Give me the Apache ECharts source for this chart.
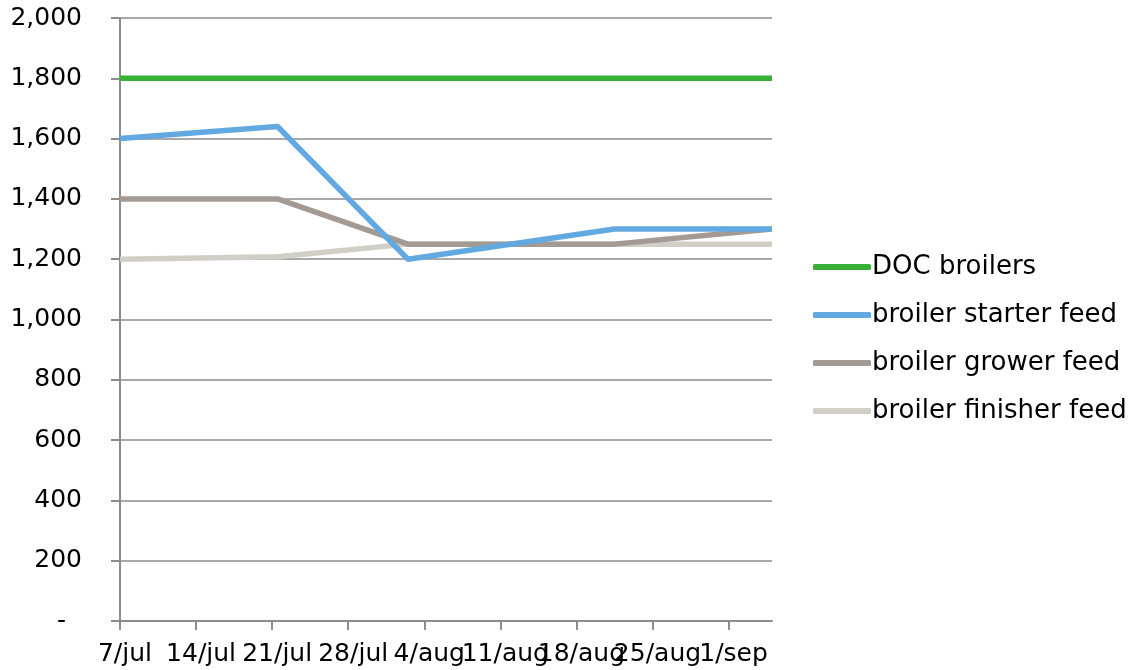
<!DOCTYPE html>
<html>
<head>
<meta charset="utf-8">
<script src="https://cdn.jsdelivr.net/npm/echarts@6/dist/echarts.min.js"></script>
<style>
html,body{margin:0;padding:0;background:#fff;}
#chart{width:1140px;height:670px;}
</style>
</head>
<body>
<div id="chart"></div>
<script>
// x positions are days since 7 July
const weekLabels = ['7/jul','14/jul','21/jul','28/jul','4/aug','11/aug','18/aug','25/aug','1/sep'];
const seriesNames = ['DOC broilers','broiler starter feed','broiler grower feed','broiler finisher feed'];
const docBroilers = [[0,1800],[14.5,1800],[26.5,1800],[45.5,1800],[60,1800]];
const starterFeed = [[0,1600],[14.5,1640],[26.5,1200],[45.5,1300],[60,1300]];
const growerFeed = [[0,1400],[14.5,1400],[26.5,1250],[45.5,1250],[60,1300]];
const finisherFeed = [[0,1200],[14.5,1208],[26.5,1250],[45.5,1250],[60,1250]];
const colors = ['#36b136','#63a9e1','#a39b93','#d1cec6'];

const FONT = 'DejaVu Sans';
const chart = echarts.init(document.getElementById('chart'));
const dataSets = [docBroilers, starterFeed, growerFeed, finisherFeed];
chart.setOption({
  animation: false,
  color: colors,
  grid: {left: 120, right: 368, top: 18, bottom: 49, containLabel: false},
  xAxis: {
    type: 'value', min: 0, max: 60, interval: 7,
    axisLine: {show: true, lineStyle: {color: '#8c8c8c', width: 2}},
    axisTick: {show: true, length: 9, lineStyle: {color: '#8c8c8c', width: 2}},
    splitLine: {show: false},
    axisLabel: {
      color: '#000', fontFamily: FONT, fontSize: 25, margin: 21,
      padding: [0, 0, 0, 10], hideOverlap: false,
      showMinLabel: true, showMaxLabel: false,
      formatter: v => { const i = Math.round(v / 7); return (v % 7 === 0 && weekLabels[i]) ? weekLabels[i] : ''; }
    }
  },
  yAxis: {
    type: 'value', min: 0, max: 2000, interval: 200,
    axisLine: {show: true, lineStyle: {color: '#8c8c8c', width: 2}},
    axisTick: {show: true, length: 9, lineStyle: {color: '#8c8c8c', width: 2}},
    splitLine: {show: true, lineStyle: {color: '#8c8c8c', width: 1.5}},
    axisLabel: {
      color: '#000', fontFamily: FONT, fontSize: 25, margin: 38,
      formatter: v => v === 0 ? '-\u2007' : v.toLocaleString('en-US')
    }
  },
  legend: {
    orient: 'vertical', left: 808, top: 249,
    itemWidth: 58, itemHeight: 6, itemGap: 22,
    icon: 'roundRect',
    textStyle: {color: '#000', fontFamily: FONT, fontSize: 26, padding: [0,0,0,-4]},
    data: seriesNames
  },
  series: seriesNames.map((name, i) => ({
    name, type: 'line', data: dataSets[i], symbol: 'none',
    lineStyle: {width: 5.5, color: colors[i]},
    itemStyle: {color: colors[i]},
    z: 10 - i
  }))
});
</script>
</body>
</html>
